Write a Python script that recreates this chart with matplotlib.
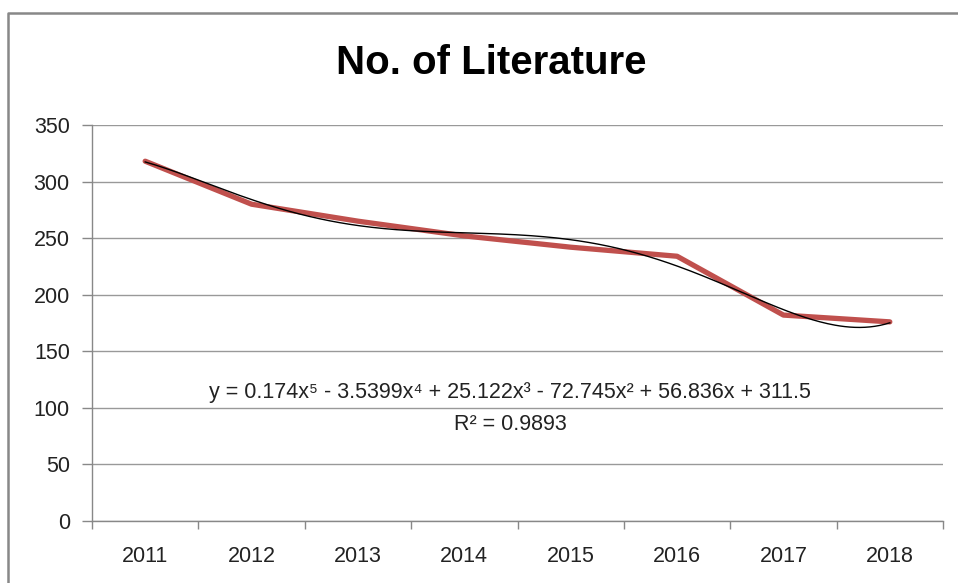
import numpy as np
import matplotlib
matplotlib.use("Agg")
import matplotlib.pyplot as plt
from matplotlib.lines import Line2D

plt.rcParams['font.family'] = ['Liberation Sans', 'DejaVu Sans']

years = ["2011", "2012", "2013", "2014", "2015", "2016", "2017", "2018"]
counts = [318, 280, 265, 252, 242, 234, 182, 176]
# polynomial trendline coefficients (highest power first), from the chart's equation
trend_coefs = [0.174, -3.5399, 25.122, -72.745, 56.836, 311.5]
equation = "y = 0.174x\u2075 - 3.5399x\u2074 + 25.122x\u00b3 - 72.745x\u00b2 + 56.836x + 311.5"
r2_text = "R\u00b2 = 0.9893"
title = "No. of Literature"

W, H = 958, 583
fig = plt.figure(figsize=(W / 100, H / 100), dpi=100)
ax = fig.add_axes([92 / W, 62 / H, 851 / W, 396 / H])

x = np.arange(1, len(years) + 1)
ax.plot(x, counts, color='#C0504D', lw=3.8, solid_capstyle='round', solid_joinstyle='round', zorder=3)
xs = np.linspace(1, len(years), 300)
ax.plot(xs, np.polyval(trend_coefs, xs), color='black', lw=1.0, zorder=4)

ax.set_xlim(0.5, len(years) + 0.5)
ax.set_ylim(0, 350)
ax.set_yticks(np.arange(0, 351, 50))
ax.tick_params(axis='y', labelsize=15.5, length=7, color='#888888', width=1, pad=9, labelcolor='#222222')
ax.set_xticks(np.arange(0.5, len(years) + 1, 1))
ax.set_xticklabels([])
ax.set_xticks(x, minor=True)
ax.set_xticklabels(years, minor=True)
ax.tick_params(axis='x', which='major', length=6, color='#888888', width=1, direction='out')
ax.tick_params(axis='x', which='minor', length=0, labelsize=15.5, pad=18, labelcolor='#222222')
ax.grid(axis='y', color='#999999', lw=1)
ax.set_axisbelow(True)
for s in ['top', 'right']:
    ax.spines[s].set_visible(False)
for s in ['left', 'bottom']:
    ax.spines[s].set_color('#888888')
    ax.spines[s].set_linewidth(1)

ax.text(4.43, 114, equation, ha='center', va='center', fontsize=15.5, color='#222222')
ax.text(4.43, 85, r2_text, ha='center', va='center', fontsize=15.5, color='#222222')

fig.text(491 / W, 1 - 63 / H, title, ha='center', va='center', fontsize=29, fontweight='bold')

# outer chart border (cropped on right and bottom)
fig.add_artist(Line2D([8 / W, 8 / W, 1.01], [-0.01, 1 - 13 / H, 1 - 13 / H],
                      transform=fig.transFigure, color='#888888', lw=1.8))

fig.savefig("out.png", dpi=100)
